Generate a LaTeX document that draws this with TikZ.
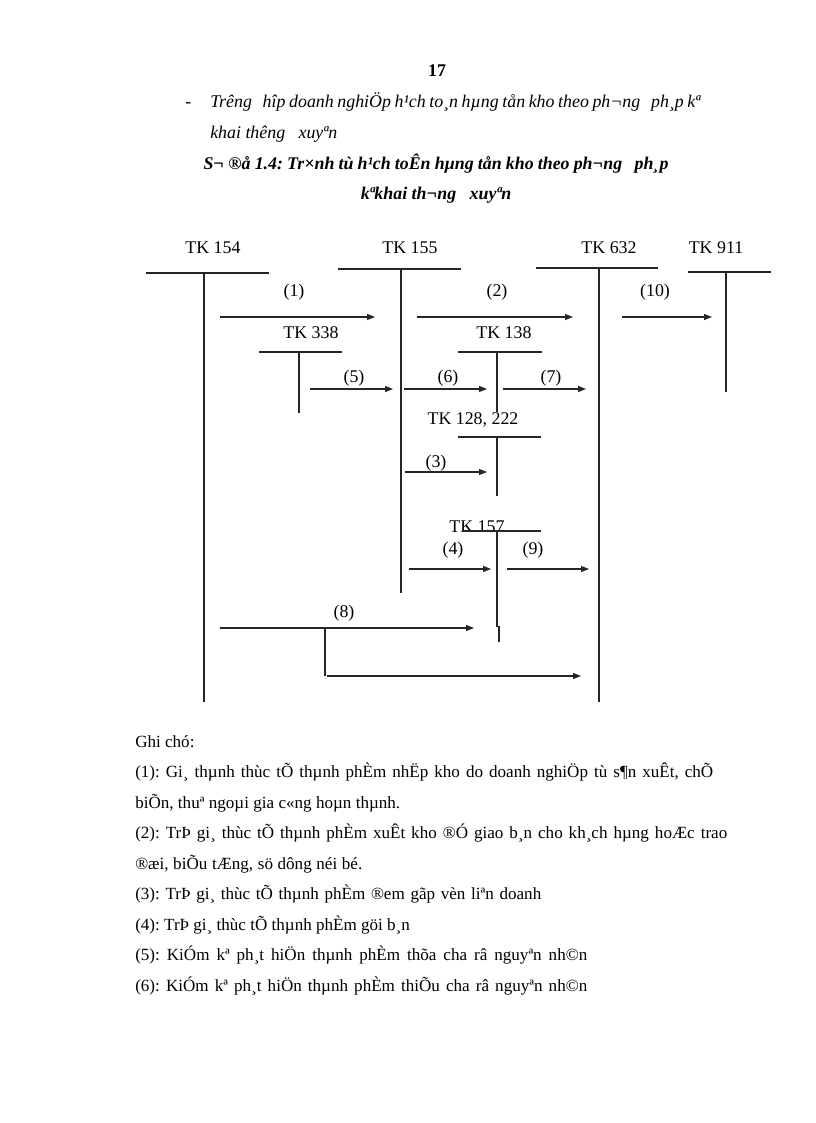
\documentclass[tikz,border=0pt]{standalone}
\usepackage{fontspec}
\setmainfont{Liberation Serif}
\usetikzlibrary{arrows.meta}
\frenchspacing
\begin{document}
\begin{tikzpicture}[x=0.75pt,y=-0.75pt,
  acct/.style={line width=0.8pt,draw=black!85},
  flow/.style={line width=0.8pt,draw=black!85,-{Triangle[length=6pt,width=4.5pt]}},
  tk/.style={inner sep=0pt,font=\fontsize{13.4}{16}\selectfont},
  num/.style={inner sep=0pt,font=\fontsize{13.4}{16}\selectfont},
  note/.style={inner sep=0pt,anchor=base west,font=\fontsize{12.8}{15}\selectfont},
  head/.style={inner sep=0pt,anchor=base west,font=\fontsize{13.4}{16}\selectfont\itshape},
  ttl/.style={inner sep=0pt,anchor=base,font=\fontsize{13.4}{16}\selectfont\bfseries\itshape}]
\useasboundingbox (0,0) rectangle (816,1123);
\fill[white] (0,0) rectangle (816,1123);

% page number and headings
\node[inner sep=0pt,anchor=base,font=\fontsize{13.4}{16}\selectfont\bfseries] (pg) at (437,77) {17};
\node[head,font=\fontsize{13.4}{16}\selectfont] (dash) at (185,108) {-};
\node[head] (h1) at (210,108) {\makebox[367.5pt][s]{Trêng\ \ \ hîp doanh nghiÖp h¹ch to¸n hµng tån kho theo ph¬ng\ \ \ ph¸p kª}};
\node[head] (h2) at (210,139) {khai thêng\ \ \ xuyªn};
\node[ttl] (t1) at (436,170) {\makebox[348.75pt][s]{S¬ ®å 1.4: Tr×nh tù h¹ch toÊn hµng tån kho theo ph¬ng\ \ \ ph¸p}};
\node[ttl] (t2) at (436,200) {kªkhai th¬ng\ \ \ xuyªn};

% account labels
\node[tk] (k154) at (213,248) {TK 154};
\node[tk] (k155) at (410,248) {TK 155};
\node[tk] (k632) at (609,248) {TK 632};
\node[tk] (k911) at (716,248) {TK 911};
\node[tk] (k338) at (311,333) {TK 338};
\node[tk] (k138) at (504,333) {TK 138};
\node[tk] (k128) at (473,420) {TK 128, 222};
\node[tk] (k157) at (477,527) {TK 157};

% T-account lines
\coordinate (a154L) at (146,273); \coordinate (a154R) at (269,273);
\coordinate (a154T) at (204,273); \coordinate (a154B) at (204,702);
\coordinate (a155L) at (338,269); \coordinate (a155R) at (461,269);
\coordinate (a155T) at (401,269); \coordinate (a155B) at (401,593);
\coordinate (a632L) at (536,268); \coordinate (a632R) at (658,268);
\coordinate (a632T) at (599,268); \coordinate (a632B) at (599,702);
\coordinate (a911L) at (688,272); \coordinate (a911R) at (771,272);
\coordinate (a911T) at (726,272); \coordinate (a911B) at (726,392);
\coordinate (a338L) at (259,352); \coordinate (a338R) at (342,352);
\coordinate (a338T) at (299,352); \coordinate (a338B) at (299,413);
\coordinate (a138L) at (458,352); \coordinate (a138R) at (542,352);
\coordinate (a138T) at (497,352); \coordinate (a138B) at (497,412);
\coordinate (a128L) at (458,437); \coordinate (a128R) at (541,437);
\coordinate (a128T) at (497,437); \coordinate (a128B) at (497,496);
\coordinate (a157L) at (462,531); \coordinate (a157R) at (541,531);
\coordinate (a157T) at (497,531); \coordinate (a157M) at (497,627);
\coordinate (a157N) at (499,626); \coordinate (a157B) at (499,642);

\foreach \a in {154,155,632,911,338,138,128}{
  \draw[acct] (a\a L) -- (a\a R);
  \draw[acct] (a\a T) -- (a\a B);
}
\draw[acct] (a157L) -- (a157R);
\draw[acct] (a157T) -- (a157M);
\draw[acct] (a157N) -- (a157B);

% flows
\coordinate (f1s) at (220,317); \coordinate (f1e) at (375,317);
\coordinate (f2s) at (417,317); \coordinate (f2e) at (573,317);
\coordinate (f10s) at (622,317); \coordinate (f10e) at (712,317);
\coordinate (f5s) at (310,389); \coordinate (f5e) at (393,389);
\coordinate (f6s) at (404,389); \coordinate (f6e) at (487,389);
\coordinate (f7s) at (503,389); \coordinate (f7e) at (586,389);
\coordinate (f3s) at (405,472); \coordinate (f3e) at (487,472);
\coordinate (f4s) at (409,569); \coordinate (f4e) at (491,569);
\coordinate (f9s) at (507,569); \coordinate (f9e) at (589,569);
\coordinate (f8s) at (220,628); \coordinate (f8e) at (474,628);
\coordinate (f8j) at (325,628); \coordinate (f8c) at (325,676);
\coordinate (f8b) at (327,676); \coordinate (f8f) at (581,676);

\draw[flow] (f1s) -- (f1e);
\draw[flow] (f2s) -- (f2e);
\draw[flow] (f10s) -- (f10e);
\draw[flow] (f5s) -- (f5e);
\draw[flow] (f6s) -- (f6e);
\draw[flow] (f7s) -- (f7e);
\draw[flow] (f3s) -- (f3e);
\draw[flow] (f4s) -- (f4e);
\draw[flow] (f9s) -- (f9e);
\draw[flow] (f8s) -- (f8e);
\draw[acct] (f8j) -- (f8c);
\draw[flow] (f8b) -- (f8f);

\node[num] (l1) at (294,292) {(1)};
\node[num] (l2) at (497,292) {(2)};
\node[num] (l10) at (655,292) {(10)};
\node[num] (l5) at (354,378) {(5)};
\node[num] (l6) at (448,378) {(6)};
\node[num] (l7) at (551,378) {(7)};
\node[num] (l3) at (436,463) {(3)};
\node[num] (l4) at (453,550) {(4)};
\node[num] (l9) at (533,550) {(9)};
\node[num] (l8) at (344,613) {(8)};

% notes
\node[note] (n0) at (135,747) {Ghi chó:};
\node[note] (n1) at (135,777.5) {\makebox[433.5pt][s]{(1): Gi¸ thµnh thùc tÕ thµnh phÈm nhËp kho do doanh nghiÖp tù s¶n xuÊt, chÕ}};
\node[note] (n2) at (135,808) {\makebox[198.75pt][s]{biÕn, thuª ngoµi gia c«ng hoµn thµnh.}};
\node[note] (n3) at (135,838.5) {\makebox[444pt][s]{(2): TrÞ gi¸ thùc tÕ thµnh phÈm xuÊt kho ®Ó giao b¸n cho kh¸ch hµng hoÆc trao}};
\node[note] (n4) at (135,869) {\makebox[170.25pt][s]{®æi, biÕu tÆng, sö dông néi bé.}};
\node[note] (n5) at (135,899.5) {\makebox[304.5pt][s]{(3): TrÞ gi¸ thùc tÕ thµnh phÈm ®em gãp vèn liªn doanh}};
\node[note] (n6) at (135,930) {(4): TrÞ gi¸ thùc tÕ thµnh phÈm göi b¸n};
\node[note] (n7) at (135,960.5) {\makebox[339pt][s]{(5): KiÓm kª ph¸t hiÖn thµnh phÈm thõa cha râ nguyªn nh©n}};
\node[note] (n8) at (135,991) {\makebox[339pt][s]{(6): KiÓm kª ph¸t hiÖn thµnh phÈm thiÕu cha râ nguyªn nh©n}};
\end{tikzpicture}
\end{document}
